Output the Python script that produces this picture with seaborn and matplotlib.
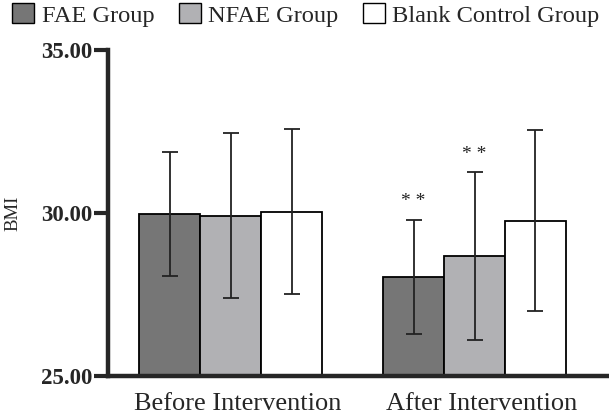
import numpy as np
import pandas as pd
import matplotlib
matplotlib.use("Agg")
import matplotlib.pyplot as plt
import matplotlib.transforms as mtrans
import seaborn as sns
from matplotlib.patches import Patch

# ── data ──────────────────────────────────────────────────
phases = ["Before Intervention", "After Intervention"]
groups = ["FAE Group", "NFAE Group", "Blank Control Group"]
mean_before = [29.98, 29.92, 30.04]
sd_before   = [1.90, 2.53, 2.52]
mean_after  = [28.04, 28.67, 29.76]
sd_after    = [1.75, 2.57, 2.78]
stars_after = ["* *", "* *", ""]
colors = ["#767676", "#b1b1b4", "#ffffff"]

df = pd.DataFrame({
    "phase": np.repeat(phases, len(groups)),
    "group": groups * len(phases),
    "bmi":   mean_before + mean_after,
    "sd":    sd_before + sd_after,
    "star":  [""] * len(groups) + stars_after,
})

sns.set_style("ticks")
plt.rcParams["font.family"] = ["Liberation Serif", "DejaVu Serif"]

fig = plt.figure(figsize=(6.09, 4.15), dpi=100)
ax = fig.add_axes([0.177, 0.094, 0.823, 0.786])

sns.barplot(data=df, x="phase", y="bmi", hue="group", order=phases,
            hue_order=groups, palette=colors, width=0.75, errorbar=None,
            edgecolor="black", linewidth=1.3, saturation=1, legend=False, ax=ax)

# error bars + significance marks, placed on the seaborn bars
for i, g in enumerate(groups):
    cont = ax.containers[i]
    for j, bar in enumerate(cont.patches):
        row = df[(df.group == g) & (df.phase == phases[j])].iloc[0]
        xc = bar.get_x() + bar.get_width() / 2
        ax.errorbar(xc, row.bmi, yerr=row.sd, fmt="none", ecolor="#222222",
                    elinewidth=1.3, capsize=6, capthick=1.3, zorder=4)
        if row.star:
            ax.text(xc, row.bmi + row.sd + 0.3, row.star, ha="center",
                    va="bottom", fontsize=14, color="#222222")

ax.set_ylim(25, 35)
ax.set_xlim(-0.505, 1.552)
ax.set_yticks([25, 30, 35])
ax.set_yticklabels([f"{v:.2f}" for v in [25, 30, 35]],
                   fontsize=16.5, fontweight="bold")
ax.tick_params(axis="y", length=10, width=3, direction="out", pad=1)
ax.tick_params(axis="x", length=0, labelsize=19, pad=12)
# category labels sit slightly right of the group centres
shift = mtrans.ScaledTranslation(5 / 72, 0, fig.dpi_scale_trans)
for lab in ax.get_xticklabels():
    lab.set_transform(lab.get_transform() + shift)
ax.set_xlabel("")
ax.set_ylabel("BMI", fontsize=13.5, labelpad=14)
for s in ["top", "right"]:
    ax.spines[s].set_visible(False)
for s in ["left", "bottom"]:
    ax.spines[s].set_linewidth(3.2)

handles = [Patch(facecolor=c, edgecolor="black", linewidth=1.0) for c in colors]
fig.legend(handles, groups, loc="upper left", bbox_to_anchor=(-0.012, 1.04),
           ncol=3, frameon=False, fontsize=17.6, handlelength=0.9,
           handleheight=0.9, handletextpad=0.3, columnspacing=1.0,
           borderpad=0.3)

fig.savefig("out.png", dpi=100)
